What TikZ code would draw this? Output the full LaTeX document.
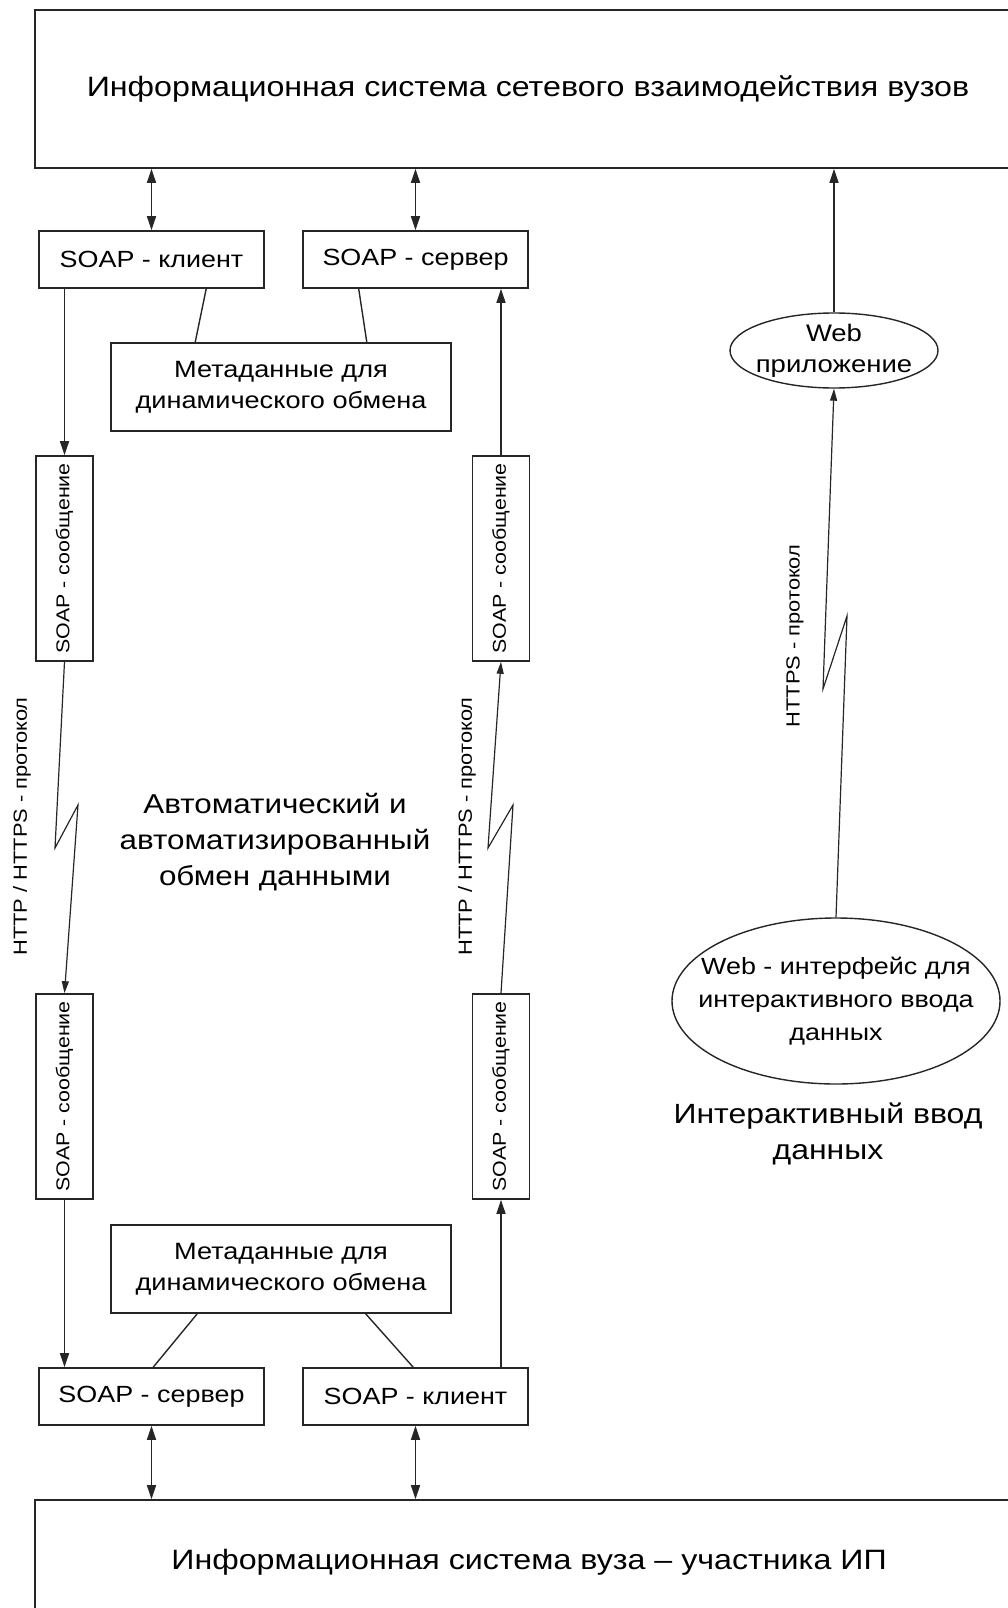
\documentclass[tikz,border=0pt]{standalone}
\usepackage{fontspec}
\setmainfont[FakeStretch=1.15]{Liberation Sans}
\usetikzlibrary{arrows.meta,shapes.geometric,calc}

\newcommand{\fsz}[1]{\fontsize{#1}{\fpeval{1.2*#1}}\selectfont}

\begin{document}
\begin{tikzpicture}[x=1pt,y=-1pt,
  ink/.style={draw=black!85},
  blk/.style={ink, line width=1.6pt, rectangle, inner sep=0pt, align=center},
  oval/.style={ink, line width=1.4pt, ellipse, inner sep=0pt},
  msg/.style={blk, minimum width=57pt, minimum height=205pt},
  soapbox/.style={blk, minimum width=225pt, minimum height=57pt, font=\fsz{23.4}},
  metabox/.style={blk, minimum width=340pt, minimum height=88pt, font=\fsz{23.6}},
  link/.style={ink, line width=1.4pt},
  arr/.style={link, -{Triangle[length=14pt,width=9pt]}},
  dbl/.style={link, {Triangle[length=14pt,width=9pt]}-{Triangle[length=14pt,width=9pt]}},
  zig/.style={link, line width=1.2pt, -{Triangle[length=12pt,width=7pt]}},
  msgtext/.style={rotate=90, font=\fsz{18.6}},
  proto/.style={rotate=90, font=\fsz{19}},
  caption/.style={align=center}
]
\useasboundingbox (0,0) rectangle (1008,1608);

% the two information systems (cut off at the page edge)
\node[blk, minimum width=986pt, minimum height=158pt, font=\fsz{28}] (top) at (528,89)
  {Информационная система сетевого взаимодействия вузов};
\node[blk, minimum width=988pt, minimum height=124pt, font=\fsz{28}] (bot) at (529,1562)
  {Информационная система вуза – участника ИП};

% SOAP endpoints and metadata
\node[soapbox] (cl1) at (151.5,259.5) {SOAP - клиент};
\node[soapbox] (sv1) at (415.5,259.5) {SOAP - сервер};
\node[metabox] (md1) at (281,387) {Метаданные для\\[3pt]динамического обмена};
\node[metabox] (md2) at (281,1269) {Метаданные для\\[3pt]динамического обмена};
\node[soapbox] (sv2) at (151.5,1396.5) {SOAP - сервер};
\node[soapbox] (cl2) at (415.5,1396.5) {SOAP - клиент};

% SOAP messages
\node[msg] (m1) at (64.5,558.5) {};
\node[msg] (m2) at (501,558.5) {};
\node[msg] (m3) at (64.5,1096.5) {};
\node[msg] (m4) at (501,1096.5) {};
\foreach \m in {m1,m2,m3,m4}
  \node[msgtext] at (\m) {SOAP - сообщение};

% web part: fixed-size ovals, the text may run over the outline
\node[oval, minimum width=208pt, minimum height=75pt,
  label={[align=center, font=\fsz{23.9}]center:Web\\[2pt]приложение}] (webapp) at (834,350.5) {};
\node[oval, minimum width=328pt, minimum height=166pt,
  label={[align=center, font=\fsz{23.4}]center:Web - интерфейс для\\[5pt]интерактивного ввода\\[5pt]данных}] (webui) at (836,1001) {};

% free captions
\node[caption, font=\fsz{27.3}] (auto) at (275,842) {Автоматический и\\[3pt]автоматизированный\\[3pt]обмен данными};
\node[caption, font=\fsz{27.8}] (inter) at (828,1134) {Интерактивный ввод\\[3pt]данных};

% protocol labels
\node[proto] (p1) at (22,826.6) {HTTP / HTTPS - протокол};
\node[proto] (p2) at (467,826.6) {HTTP / HTTPS - протокол};
\node[proto] (p3) at (795,636) {HTTPS - протокол};

% links to the upper system
\draw[dbl] (cl1.north) -- (cl1.north |- top.south);
\draw[dbl] (sv1.north) -- (sv1.north |- top.south);
\draw[arr] (webapp.north) -- (webapp.north |- top.south);

% metadata links
\draw[link] ([xshift=168pt]cl1.south west) -- ([xshift=85pt]md1.north west);
\draw[link] ([xshift=56.5pt]sv1.south west) -- ([xshift=256.6pt]md1.north west);
\draw[link] ([xshift=87pt]md2.south west) -- ([xshift=115pt]sv2.north west);
\draw[link] ([xshift=255.5pt]md2.south west) -- ([xshift=111pt]cl2.north west);

% outgoing chain (left)
\draw[arr] (cl1.south -| m1.north) -- (m1.north);
\draw[zig] (m1.south) -- (55,848) -- (78,805) -- (m3.north);
\draw[arr] (m3.south) -- (m3.south |- sv2.north);

% incoming chain (right)
\draw[arr] (m4.south |- cl2.north) -- (m4.south);
\draw[zig] (m4.north) -- (513,805) -- (488,848) -- (m2.south);
\draw[arr] (m2.north) -- (m2.north |- sv1.south);

% interactive input
\draw[zig] (webui.north) -- (847,616) -- (823,689) -- (webapp.south);

% links to the lower system
\draw[dbl] (sv2.south) -- (sv2.south |- bot.north);
\draw[dbl] (cl2.south) -- (cl2.south |- bot.north);
\end{tikzpicture}
\end{document}
